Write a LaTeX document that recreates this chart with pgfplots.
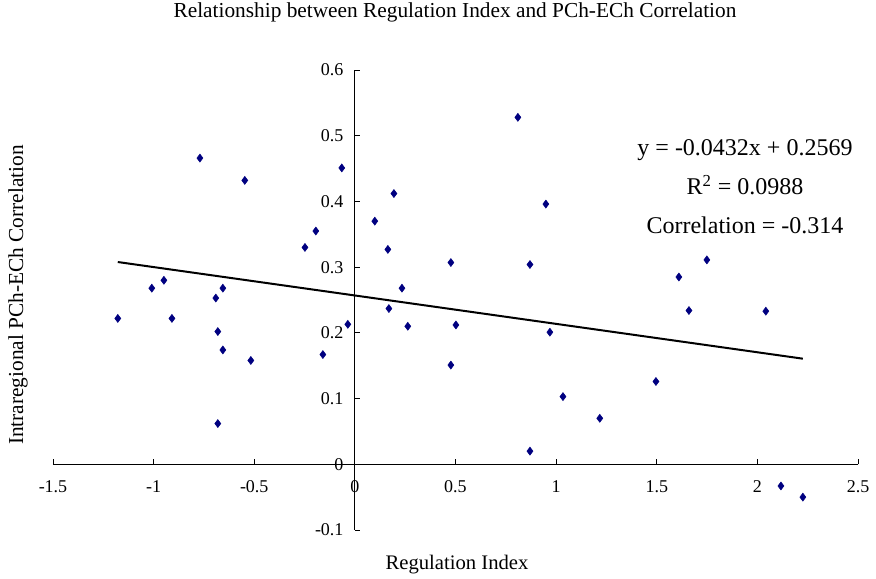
\documentclass[border=0pt]{standalone}
\usepackage{fontspec}
\setmainfont{Liberation Serif}
\usepackage{pgfplots}
\pgfplotsset{compat=1.18}
\definecolor{navy}{RGB}{0,0,128}
\begin{document}
\begin{tikzpicture}
\begin{axis}[
  scale only axis,
  width=603.75pt, height=345pt,
  xmin=-1.5, xmax=2.5, ymin=-0.1, ymax=0.6,
  axis lines=middle,
  axis line style={-, line width=0.7pt},
  xtick={-1.5,-1,-0.5,0,0.5,1,1.5,2,2.5},
  ytick={-0.1,0,0.1,0.2,0.3,0.4,0.5,0.6},
  xticklabels={-1.5,-1,-0.5,0,0.5,1,1.5,2,2.5},
  yticklabels={-0.1,0,0.1,0.2,0.3,0.4,0.5,0.6},
  hide obscured x ticks=false,
  hide obscured y ticks=false,
  tick align=inside,
  major tick length=4pt,
  tick style={black, line width=0.7pt},
  xticklabel style={font=\fontsize{13.5}{16}\selectfont, anchor=north, yshift=-9pt},
  yticklabel style={font=\fontsize{13.5}{16}\selectfont, anchor=east, xshift=-5pt},
  clip=false,
]
\addplot[only marks, mark=diamond*, mark size=3pt, color=navy, mark options={fill=navy, draw=navy}] coordinates {
(-1.178,0.222) (-1.009,0.268) (-0.949,0.280) (-0.909,0.222) (-0.770,0.466)
(-0.691,0.253) (-0.656,0.268) (-0.681,0.202) (-0.656,0.174) (-0.681,0.062)
(-0.547,0.432) (-0.517,0.158) (-0.248,0.330) (-0.194,0.355) (-0.065,0.451)
(-0.035,0.213) (-0.159,0.167) (0.099,0.370) (0.194,0.412) (0.164,0.327)
(0.234,0.268) (0.169,0.237) (0.263,0.210) (0.477,0.307) (0.502,0.212)
(0.477,0.151) (0.810,0.528) (0.870,0.304) (0.949,0.396) (0.969,0.201)
(1.034,0.103) (0.870,0.020) (1.217,0.070) (1.496,0.126) (1.610,0.285)
(1.660,0.234) (1.749,0.311) (2.042,0.233) (2.117,-0.033) (2.226,-0.050)
};
\addplot[black, line width=1.5pt] coordinates {(-1.178,0.3078) (2.226,0.1607)};
\end{axis}
\node[font=\fontsize{16}{19}\selectfont] at (301.5pt,388.5pt) {Relationship between Regulation Index and PCh-ECh Correlation};
\node[font=\fontsize{15.5}{19}\selectfont] at (303pt,-26.25pt) {Regulation Index};
\node[font=\fontsize{16}{19}\selectfont, rotate=90] at (-26.25pt,176.25pt) {Intraregional PCh-ECh Correlation};
\node[font=\fontsize{18}{22}\selectfont] at (519pt,285pt) {y = -0.0432x + 0.2569};
\node[font=\fontsize{18}{22}\selectfont] at (519pt,258.75pt) {R\textsuperscript{2} = 0.0988};
\node[font=\fontsize{18}{22}\selectfont] at (519pt,228.75pt) {Correlation = -0.314};
\pgfresetboundingbox
\path (-39.75pt,-36.75pt) rectangle (617.25pt,397.5pt);
\end{tikzpicture}
\end{document}
